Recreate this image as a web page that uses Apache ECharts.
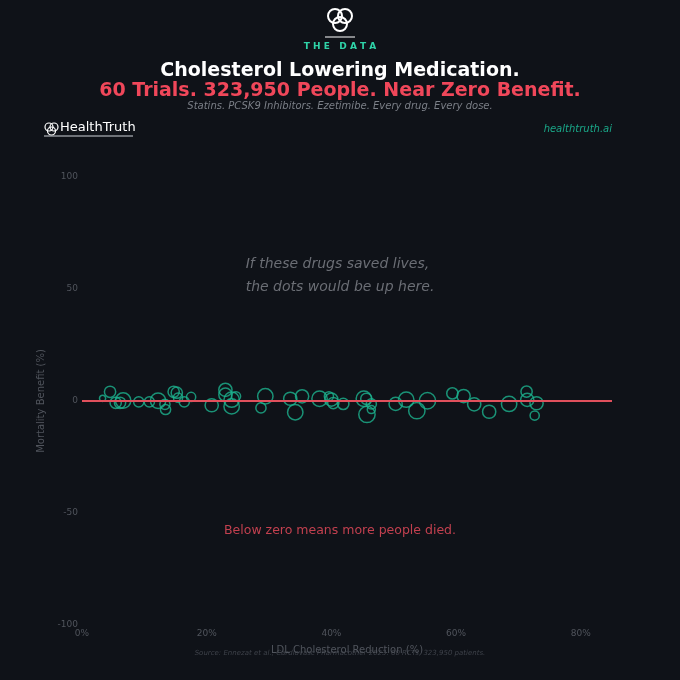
<!DOCTYPE html>
<html>
<head>
    <meta charset="UTF-8">
    <title>Cholesterol Lowering Medication</title>
    <script src="https://cdn.jsdelivr.net/npm/echarts@6/dist/echarts.min.js"></script>
    <style>
        html, body { margin: 0; padding: 0; background: #0f1218; }
        #chart { width: 680px; height: 680px; }
    </style>
</head>
<body>
<div id="chart"></div>
<script>
    // trial data
    var ldlReduction = [3.3, 4.5, 5.4, 6.1, 6.6, 9.1, 10.8, 12.2, 13.3, 13.4, 14.7, 15.2, 15.4, 16.4, 17.5,
        20.8, 23.0, 23.0, 24.0, 24.0, 24.7, 29.4, 28.7, 33.4, 35.3, 34.2,
        38.1, 39.6, 40.0, 40.3, 41.9, 45.2, 45.6, 46.4, 45.7, 46.4, 50.3, 52.0, 53.7, 55.4,
        59.4, 61.2, 62.9, 65.3, 68.5, 71.3, 71.4, 72.9, 72.6];
    var mortalityBenefit = [1.2, 4.1, -0.8, -0.8, 0.2, -0.4, -0.4, 0.1, -1.5, -3.8, 4.1, 3.7, 1.5, -0.4, 1.8,
        -1.9, 5.0, 2.8, 0.6, -2.4, 2.1, 2.1, -3.1, 1.0, 2.1, -5.0,
        1.0, 2.1, 0.6, -0.9, -1.3, 1.0, 1.0, -1.3, -6.0, -3.8, -1.3, 0.6, -4.3, 0.1,
        3.4, 2.2, -1.5, -4.8, -1.3, 4.2, 0.5, -1.0, -6.5];
    // approx. patients per trial, thousands
    var trialPatients = [0.2, 5.8, 5.8, 5.8, 16, 4, 4, 16, 4, 4, 5.8, 5.8, 2.6, 4, 2.6,
        10, 10, 10, 16, 16, 2.6, 16, 4, 10, 10, 16,
        16, 2.6, 10, 5.8, 5.8, 16, 5.8, 4, 19, 1.4, 10, 16, 19, 19,
        5.8, 10, 10, 10, 16, 5.8, 10, 10, 2.6];
    var xTicks = [0, 20, 40, 60, 80];
    var yTicks = [-100, -50, 0, 50, 100];

    var points = [];
    for (var i = 0; i < ldlReduction.length; i++) {
        points.push([ldlReduction[i], mortalityBenefit[i], trialPatients[i]]);
    }

    var chart = echarts.init(document.getElementById("chart"));
    var green = "#1db38f";
    var font = "DejaVu Sans";

    var option = {
        backgroundColor: "#0f1218",
        animation: false,
        textStyle: { fontFamily: font },
        grid: { left: 82, right: 68, top: 177, bottom: 55 },
        xAxis: {
            type: "value",
            min: 0,
            max: 85,
            interval: 20,
            name: "LDL Cholesterol Reduction (%)",
            nameLocation: "middle",
            nameGap: 20,
            nameTextStyle: { color: "#50545c", fontSize: 10, fontFamily: font },
            axisLine: { show: false },
            axisTick: { show: false },
            splitLine: { show: false },
            axisLabel: {
                color: "#50545c", fontSize: 9, margin: 4, showMaxLabel: false,
                formatter: function (v) { return xTicks.indexOf(v) >= 0 ? v + "%" : ""; }
            }
        },
        yAxis: {
            type: "value",
            min: yTicks[0],
            max: yTicks[yTicks.length - 1],
            interval: 50,
            name: "Mortality Benefit (%)",
            nameLocation: "middle",
            nameGap: 32,
            nameTextStyle: { color: "#50545c", fontSize: 10, fontFamily: font },
            axisLine: { show: false },
            axisTick: { show: false },
            splitLine: { show: false },
            axisLabel: { color: "#50545c", fontSize: 9, margin: 4 }
        },
        series: [{
            type: "scatter",
            data: points,
            symbolSize: function (d) { return 5 + 2.6 * Math.sqrt(d[2]); },
            itemStyle: { color: "transparent", borderColor: green, borderWidth: 1.5 },
            markLine: {
                silent: true,
                symbol: "none",
                label: { show: false },
                lineStyle: { color: "#e0505c", width: 2, type: "solid" },
                data: [{ yAxis: 0 }]
            },
            z: 3
        }],
        graphic: [
            // logo knot
            { type: "circle", shape: { cx: 335, cy: 16, r: 7 }, style: { fill: "none", stroke: "#ffffff", lineWidth: 2 } },
            { type: "circle", shape: { cx: 345, cy: 16, r: 7 }, style: { fill: "none", stroke: "#ffffff", lineWidth: 2 } },
            { type: "circle", shape: { cx: 340, cy: 24, r: 7 }, style: { fill: "none", stroke: "#ffffff", lineWidth: 2 } },
            { type: "line", shape: { x1: 325, y1: 37, x2: 355, y2: 37 }, style: { stroke: "#ffffff", lineWidth: 1 } },
            {
                type: "text", left: "center", top: 42,
                style: { text: "T H E   D A T A", fill: "#2fd3a8", font: "bold 9px " + font }
            },
            {
                type: "text", left: "center", top: 62,
                style: { text: "Cholesterol Lowering Medication.", fill: "#ffffff", font: "bold 19px " + font }
            },
            {
                type: "text", left: "center", top: 82,
                style: { text: "60 Trials. 323,950 People. Near Zero Benefit.", fill: "#f0475a", font: "bold 19px " + font }
            },
            {
                type: "text", left: "center", top: 101,
                style: { text: "Statins. PCSK9 Inhibitors. Ezetimibe. Every drug. Every dose.", fill: "#7b7f87", font: "italic 10px " + font }
            },
            // brand
            { type: "circle", shape: { cx: 49, cy: 127, r: 4 }, style: { fill: "none", stroke: "#ffffff", lineWidth: 1.2 } },
            { type: "circle", shape: { cx: 54, cy: 127, r: 4 }, style: { fill: "none", stroke: "#ffffff", lineWidth: 1.2 } },
            { type: "circle", shape: { cx: 51.5, cy: 131, r: 4 }, style: { fill: "none", stroke: "#ffffff", lineWidth: 1.2 } },
            {
                type: "text", left: 60, top: 121,
                style: { text: "HealthTruth", fill: "#ffffff", font: "13px " + font }
            },
            { type: "line", shape: { x1: 44, y1: 136, x2: 133, y2: 136 }, style: { stroke: "#cfd2d8", lineWidth: 1 } },
            {
                type: "text", right: 68, top: 124,
                style: { text: "healthtruth.ai", fill: "#1aa889", font: "italic 10px " + font }
            },
            // annotations
            {
                type: "text", left: "center", top: 253,
                style: {
                    text: "If these drugs saved lives,\nthe dots would be up here.",
                    fill: "#6b6e75", font: "italic 14px " + font, align: "center", lineHeight: 23
                }
            },
            {
                type: "text", left: "center", top: 524,
                style: { text: "Below zero means more people died.", fill: "#c2404f", font: "12.5px " + font }
            },
            {
                type: "text", left: "center", top: 650,
                style: {
                    text: "Source: Ennezat et al., Cardiovasc Pharmacother 2023. 60 RCTs, 323,950 patients.",
                    fill: "#3e424a", font: "italic 7px " + font
                }
            }
        ]
    };

    chart.setOption(option);
</script>
</body>
</html>
